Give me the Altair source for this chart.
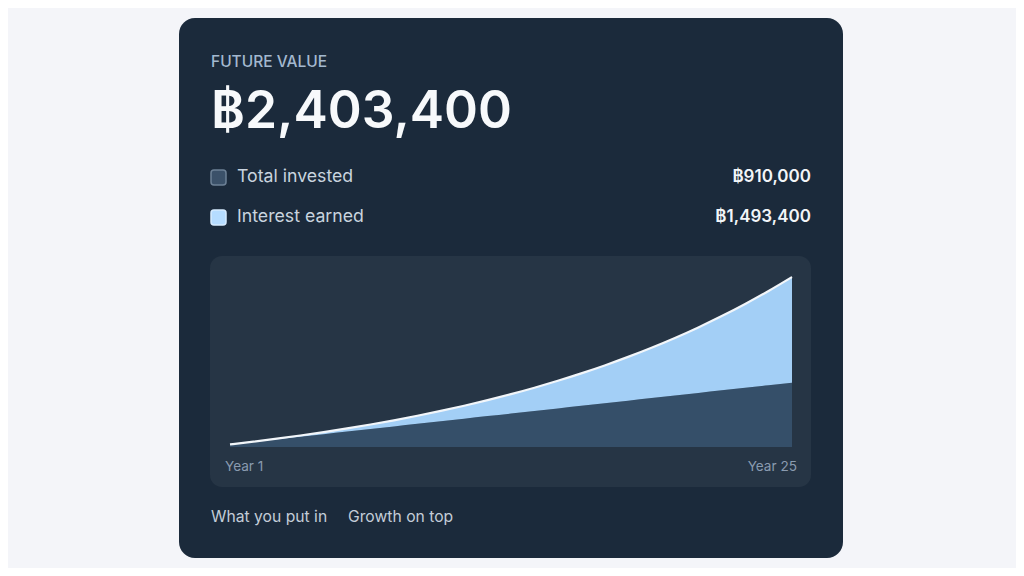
import altair as alt
import pandas as pd

# ---- data ----
years = list(range(1, 26))
invested = [36400, 72800, 109200, 145600, 182000, 218400, 254800, 291200, 327600, 364000,
            400400, 436800, 473200, 509600, 546000, 582400, 618800, 655200, 691600, 728000,
            764400, 800800, 837200, 873600, 910000]
total = [36400, 75500, 117400, 162300, 210600, 262400, 317900, 377500, 441500, 510100,
         583700, 662800, 747500, 838500, 936100, 1040900, 1153200, 1273800, 1403200, 1542000,
         1691000, 1850900, 2022400, 2206400, 2403400]

title_label = "FUTURE VALUE"
headline = "฿2,403,400"
series_names = ["Total invested", "Interest earned"]
series_values = ["฿910,000", "฿1,493,400"]
axis_labels = ["Year 1", "Year 25"]
footer_labels = ["What you put in", "Growth on top"]

FONT = "Inter"
BG = "#f4f5f9"
CARD = "#1b2a3b"
PANEL = "#263545"
DARK = "#354f69"
LIGHT = "#a3cff6"

df = pd.DataFrame({"year": years, "invested": invested, "total": total})
one = alt.Data(values=[{"k": 0}])

xs = alt.Scale(domain=[1, 25], range=[222, 784], nice=False, zero=False)
ys = alt.Scale(domain=[0, 2403400], range=[439, 269], nice=False)


def rect(x, x2, y, y2, fill, r, stroke=None):
    kw = dict(fill=fill, cornerRadius=r)
    if stroke:
        kw.update(stroke=stroke, strokeWidth=1.5)
    return alt.Chart(one).mark_rect(**kw).encode(
        x=alt.value(x), x2=alt.value(x2), y=alt.value(y), y2=alt.value(y2))


def text(s, x, y, size, color, weight=400, align="left", baseline="middle"):
    kw = dict(font=FONT, fontSize=size, color=color, fontWeight=weight,
              align=align, baseline=baseline)
    return alt.Chart(one).mark_text(**kw).encode(
        x=alt.value(x), y=alt.value(y), text=alt.value(s))


card = rect(171, 835, 10, 550, CARD, 16)
panel = rect(202, 803, 248, 479, PANEL, 12)

base = alt.Chart(df)
area_inv = base.mark_area(color=DARK, interpolate="monotone").encode(
    x=alt.X("year:Q", scale=xs, axis=None),
    y=alt.Y("invested:Q", scale=ys, axis=None),
)
area_int = base.mark_area(color=LIGHT, interpolate="monotone").encode(
    x=alt.X("year:Q", scale=xs, axis=None),
    y=alt.Y("total:Q", scale=ys, axis=None),
    y2="invested:Q",
)
line = base.mark_line(color="#f2f6fa", strokeWidth=2.2, interpolate="monotone").encode(
    x=alt.X("year:Q", scale=xs, axis=None),
    y=alt.Y("total:Q", scale=ys, axis=None),
)

layers = [
    card, panel, area_inv, area_int, line,
    text(title_label, 203, 54, 15.5, "#a3b8cf", 500),
    text(headline, 203, 120, 51.5, "#f7f9fb", 600, baseline="alphabetic"),
    rect(203, 218, 162, 177, "#3b5169", 3, "#6d8196"),
    rect(203, 218, 202, 217, "#b5dcff", 3, "#d6ebff"),
    text(series_names[0], 229, 169, 17.7, "#c9d4df"),
    text(series_names[1], 229, 209, 17.7, "#c9d4df"),
    text(series_values[0], 803, 169, 17, "#f2f5f8", 600, align="right"),
    text(series_values[1], 803, 209, 17, "#f2f5f8", 600, align="right"),
    text(axis_labels[0], 217, 459, 13.6, "#8a9bb0"),
    text(axis_labels[1], 789, 459, 13.6, "#8a9bb0", align="right"),
    text(footer_labels[0], 203, 509, 15.7, "#c3cdd8"),
    text(footer_labels[1], 340, 509, 15.7, "#c3cdd8"),
]

chart = alt.layer(*layers).properties(
    width=1008, height=560, padding=0,
    autosize=alt.AutoSizeParams(type="none"),
    background=BG,
).configure_view(stroke=None)

chart.save("out.html", embed_options={"renderer": "svg", "actions": False})
